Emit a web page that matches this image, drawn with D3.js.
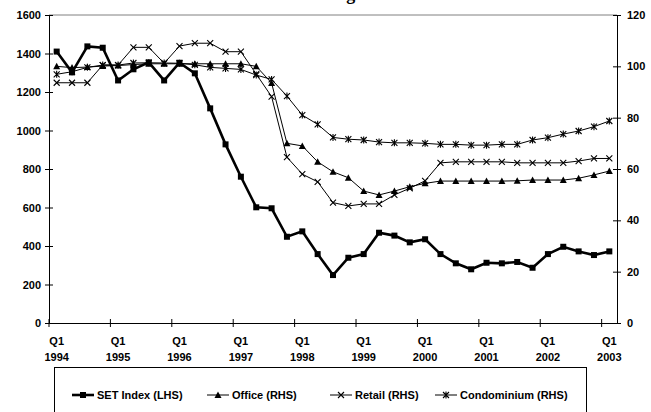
<!DOCTYPE html>
<html>
<head>
<meta charset="utf-8">
<script src="https://cdn.jsdelivr.net/npm/d3@7"></script>
<style>
  html, body { margin: 0; padding: 0; background: #fff; }
  svg { display: block; }
  text { font-family: "Liberation Sans", Arial, sans-serif; font-weight: bold; fill: #000; }
</style>
</head>
<body>
<svg id="chart" width="651" height="412"></svg>
<script>
// Quarterly series, Q1 1994 – Q1 2003
const quarters = d3.range(37).map(i => `${1994 + Math.floor(i / 4)}Q${(i % 4) + 1}`);
const yearLabels = ["1994","1995","1996","1997","1998","1999","2000","2001","2002","2003"];
const leftTicks = [0, 200, 400, 600, 800, 1000, 1200, 1400, 1600];
const rightTicks = [0, 20, 40, 60, 80, 100, 120];

const setIndex = [1410, 1302, 1437, 1430, 1260, 1318, 1354, 1260, 1352, 1297, 1115, 928, 760, 601, 596, 448, 476, 358,
                  249, 339, 358, 469, 454, 419, 435, 358, 310, 279, 313, 310, 317, 287, 358, 396, 372, 353, 372];
const office = [100, 99.5, 99.7, 100.1, 100.3, 100.7, 101, 101, 101, 101, 101, 101, 101, 100, 93.5, 70, 69, 62.8,
                58.9, 56.6, 51.4, 49.9, 51.4, 53.1, 54.4, 55.3, 55.3, 55.3, 55.3, 55.3, 55.4, 55.7, 55.7, 55.7, 56.4, 57.7, 59.2];
const retail = [93.6, 93.6, 93.6, 100.5, 100.5, 107.4, 107.4, 101.2, 107.9, 109, 109, 105.7, 105.7, 97, 88.2, 64.6, 58, 55,
                46.9, 45.6, 46.4, 46.4, 49.9, 52.5, 55.4, 62.4, 62.8, 62.8, 62.8, 62.8, 62.4, 62.4, 62.4, 62.4, 63.1, 64.1, 64.1];
const condo = [96.9, 97.9, 99.6, 100.5, 100.5, 101.3, 101.4, 101.3, 101.2, 100.6, 99.6, 99.2, 98.8, 96.6, 94.9, 88.4, 81, 77.4,
               72.3, 71.6, 71.3, 70.5, 70.2, 70.2, 70, 69.6, 69.6, 69.3, 69.3, 69.6, 69.6, 71.3, 72.2, 73.6, 74.8, 76.5, 78.7];

const seriesNames = ["SET Index (LHS)", "Office (RHS)", "Retail (RHS)", "Condominium (RHS)"];
const titleText = "The SET Index and Bangkok Rental Indices";

const svg = d3.select("#chart");
const plot = { left: 49, right: 617, top: 15, bottom: 323 };

const x = d3.scaleBand().domain(quarters).range([plot.left, plot.right]).paddingInner(0).paddingOuter(0);
const yL = d3.scaleLinear().domain([0, 1600]).range([plot.bottom, plot.top]);
const yR = d3.scaleLinear().domain([0, 120]).range([plot.bottom, plot.top]);
const cx = q => x(q) + x.bandwidth() / 2;

// Title (runs off the top edge; only descenders remain)
svg.append("text").attr("x", 330).attr("y", 0).attr("text-anchor", "middle")
  .style("font-family", "'Liberation Serif', 'Times New Roman', serif").style("font-size", "18px")
  .text(titleText);

// Plot frame top edge
svg.append("line").attr("x1", plot.left).attr("x2", plot.right).attr("y1", plot.top).attr("y2", plot.top)
  .attr("stroke", "#808080").attr("stroke-width", 1);

// Left axis
const gL = svg.append("g").attr("transform", `translate(${plot.left},0)`)
  .call(d3.axisLeft(yL).tickValues(leftTicks).tickSize(4).tickPadding(4).tickFormat(d3.format("d")));
gL.selectAll(".tick line").attr("x2", 4).attr("x1", -4);

// Right axis
const gR = svg.append("g").attr("transform", `translate(${plot.right},0)`)
  .call(d3.axisRight(yR).tickValues(rightTicks).tickSize(4).tickPadding(6).tickFormat(d3.format("d")));
gR.selectAll(".tick line").attr("x1", -4).attr("x2", 4);

// Bottom axis: ticks between categories, labels on every Q1
const firstQ = quarters.filter((q, i) => i % 4 === 0);
const gB = svg.append("g").attr("transform", `translate(0,${plot.bottom})`)
  .call(d3.axisBottom(x).tickValues([]).tickSizeOuter(0));
gB.selectAll(".tickmark").data(firstQ).enter().append("line")
  .attr("x1", d => x(d)).attr("x2", d => x(d)).attr("y1", -4).attr("y2", 4)
  .attr("stroke", "#000");
const lab = gB.selectAll(".lab").data(firstQ).enter().append("text")
  .attr("text-anchor", "middle").style("font-size", "11px");
lab.append("tspan").attr("x", d => cx(d)).attr("y", 22).text("Q1");
lab.append("tspan").attr("x", (d, i) => cx(d)).attr("y", 38).text((d, i) => yearLabels[i]);

[gL, gR, gB].forEach(g => {
  g.selectAll("text").style("font-size", "11px").style("font-weight", "bold").style("font-family", "'Liberation Sans', Arial, sans-serif");
  g.select(".domain").attr("stroke", "#000");
  g.selectAll(".tick line").attr("stroke", "#000");
});

// Marker shapes
function drawMarker(g, kind, px, py) {
  if (kind === "square") {
    g.append("rect").attr("x", px - 3).attr("y", py - 3).attr("width", 6).attr("height", 6).attr("fill", "#000");
  } else if (kind === "triangle") {
    g.append("path").attr("d", `M${px},${py - 3.5}L${px + 3.5},${py + 3}L${px - 3.5},${py + 3}Z`).attr("fill", "#000");
  } else if (kind === "x") {
    g.append("path").attr("d", `M${px - 3},${py - 3}L${px + 3},${py + 3}M${px + 3},${py - 3}L${px - 3},${py + 3}`)
      .attr("stroke", "#000").attr("stroke-width", 1.1);
  } else if (kind === "star") {
    g.append("path").attr("d", `M${px - 3},${py - 3}L${px + 3},${py + 3}M${px + 3},${py - 3}L${px - 3},${py + 3}M${px},${py - 3.5}L${px},${py + 3.5}`)
      .attr("stroke", "#000").attr("stroke-width", 1.1);
  }
}

const series = [
  { name: seriesNames[0], values: setIndex, scale: yL, width: 2.6, marker: "square" },
  { name: seriesNames[1], values: office, scale: yR, width: 1, marker: "triangle" },
  { name: seriesNames[2], values: retail, scale: yR, width: 1, marker: "x" },
  { name: seriesNames[3], values: condo, scale: yR, width: 1, marker: "star" }
];

// Draw thin series first, SET Index on top
[1, 2, 3, 0].forEach(k => {
  const s = series[k];
  const g = svg.append("g");
  const line = d3.line().x((d, i) => cx(quarters[i])).y(d => s.scale(d));
  g.append("path").datum(s.values).attr("d", line).attr("fill", "none")
    .attr("stroke", "#000").attr("stroke-width", s.width).attr("stroke-linejoin", "miter");
  s.values.forEach((v, i) => drawMarker(g, s.marker, cx(quarters[i]), s.scale(v)));
});

// Legend
const lg = svg.append("g");
lg.append("rect").attr("x", 54.5).attr("y", 367.5).attr("width", 532).attr("height", 50)
  .attr("fill", "#fff").attr("stroke", "#000").attr("stroke-width", 1);
const legendX = [72, 207, 330, 435];
series.forEach((s, k) => {
  const lx = legendX[k], ly = 395;
  lg.append("line").attr("x1", lx).attr("x2", lx + 22).attr("y1", ly).attr("y2", ly)
    .attr("stroke", "#000").attr("stroke-width", s.width);
  drawMarker(lg, s.marker, lx + 11, ly);
  lg.append("text").attr("x", lx + 25).attr("y", ly + 4).style("font-size", "11px").text(s.name);
});
</script>
</body>
</html>
